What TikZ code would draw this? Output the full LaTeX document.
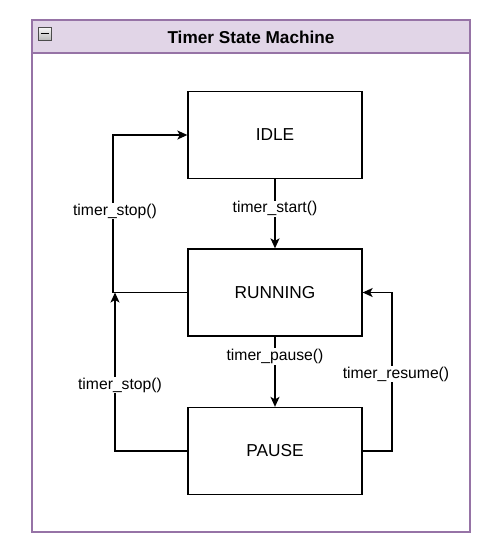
\documentclass[tikz,border=0pt]{standalone}
\usepackage{fontspec}
\setmainfont{Liberation Sans}
\usetikzlibrary{arrows.meta}
\definecolor{frameC}{HTML}{9673A6}
\definecolor{headC}{HTML}{E1D5E7}
\begin{document}
\begin{tikzpicture}[x=1pt,y=-1pt,
  state/.style={draw=black,line width=1.3pt,fill=white,minimum width=174pt,minimum height=87pt,inner sep=0pt,font=\fontsize{17.3}{19}\selectfont},
  lbl/.style={fill=white,inner sep=1pt,font=\fontsize{15.7}{17}\selectfont},
  conn/.style={line width=1.3pt,-{Stealth[length=10pt,width=9pt,inset=2.5pt]}}]
\useasboundingbox (0,0) rectangle (493,550);
% container
\draw[frameC,line width=1.3pt,fill=white] (32,20) rectangle (470,532);
\draw[frameC,line width=1.3pt,fill=headC] (32,20) rectangle (470,53);
\node[font=\bfseries\fontsize{17.2}{19}\selectfont] (title) at (251,37) {Timer State Machine};
\draw[gray!60!black,line width=0.8pt,top color=gray!5,bottom color=gray!55] (38,27) rectangle (51,40);
\draw[black,line width=1.6pt] (40.5,33.5) -- (48.5,33.5);
% states
\node[state] (idle) at (275,135) {IDLE};
\node[state] (running) at (275,292.5) {RUNNING};
\node[state] (pause) at (275,451) {PAUSE};
% bend points
\coordinate (l1) at (113,292.5);
\coordinate (l2) at (113,135);
\coordinate (l3) at (115,451);
\coordinate (l4) at (115,292.5);
\coordinate (r1) at (392,451);
\coordinate (r2) at (392,292.5);
% connectors
\draw[conn] (idle.south) -- (running.north) node[lbl,pos=0.43] (ls) {timer\_start()};
\draw[conn] (running.south) -- (pause.north) node[lbl,pos=0.28] (lp) {timer\_pause()};
\draw[conn] (running.west) -- (l1) -- (l2) -- (idle.west);
\node[lbl] (lstop1) at (115,211) {timer\_stop()};
\draw[conn] (pause.west) -- (l3) -- (l4);
\node[lbl] (lstop2) at (120,385) {timer\_stop()};
\draw[conn] (pause.east) -- (r1) -- (r2) -- (running.east);
\node[lbl] (lres) at (396,374) {timer\_resume()};
\end{tikzpicture}
\end{document}
